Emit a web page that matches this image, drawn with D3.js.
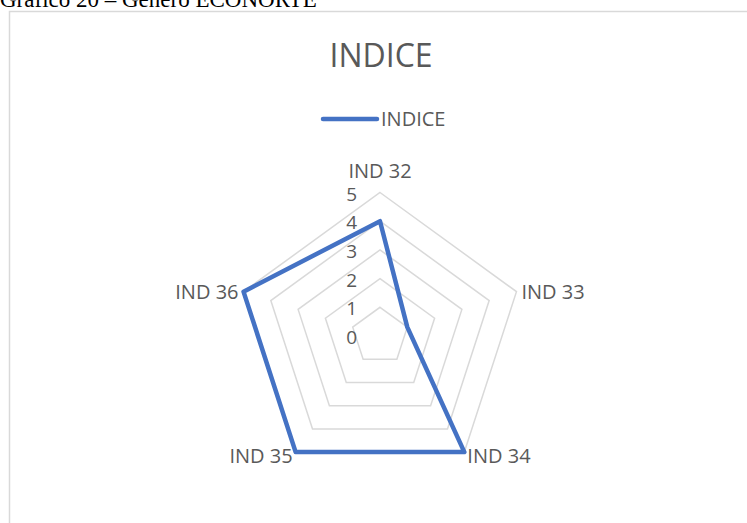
<!DOCTYPE html>
<html>
<head>
<meta charset="utf-8">
<script src="https://cdn.jsdelivr.net/npm/d3@7"></script>
<style>
  html, body { margin: 0; padding: 0; background: #fff; }
  svg { display: block; }
</style>
</head>
<body>
<svg id="chart" width="747" height="523"></svg>
<script>
// Radar chart data
const categories = ["IND 32", "IND 33", "IND 34", "IND 35", "IND 36"];
const seriesName = "INDICE";
const values = [4, 1, 5, 5, 5];
const tickValues = [0, 1, 2, 3, 4, 5];

const svg = d3.select("#chart");
const textColor = "#595959";
const gridColor = "#d9d9d9";
const lineColor = "#4472c4";
const font = "'Open Sans', sans-serif";

// Caption above the chart frame (partially cut off at the top)
svg.append("text")
  .attr("x", 0).attr("y", 7)
  .attr("font-family", "'Liberation Serif', 'Times New Roman', serif")
  .attr("font-size", 23)
  .attr("fill", "#000")
  .text("Gráfico 20 – Género ECONORTE");

// Chart frame
svg.append("rect")
  .attr("x", 9.5).attr("y", 11.5)
  .attr("width", 800).attr("height", 600)
  .attr("fill", "#fff")
  .attr("stroke", gridColor).attr("stroke-width", 1.5);

// Title
svg.append("text")
  .attr("x", 381).attr("y", 67)
  .attr("text-anchor", "middle")
  .attr("font-family", font).attr("font-size", 32)
  .attr("fill", textColor)
  .text(seriesName);

// Legend
const legend = svg.append("g");
legend.append("line")
  .attr("x1", 323).attr("x2", 377)
  .attr("y1", 119).attr("y2", 119)
  .attr("stroke", lineColor).attr("stroke-width", 4.5)
  .attr("stroke-linecap", "round");
legend.append("text")
  .attr("x", 381).attr("y", 126)
  .attr("font-family", font).attr("font-size", 20)
  .attr("fill", textColor)
  .text(seriesName);

// Radar geometry
const cx = 380, cy = 336, radius = 143.5;
const r = d3.scaleLinear().domain([0, 5]).range([0, radius]);
const angle = d3.scaleLinear().domain([0, categories.length]).range([0, 2 * Math.PI]);

const point = (i, v) => {
  const a = angle(i) - Math.PI / 2;
  return [cx + r(v) * Math.cos(a), cy + r(v) * Math.sin(a)];
};

const radial = d3.lineRadial()
  .angle((d, i) => angle(i))
  .radius(d => r(d))
  .curve(d3.curveLinearClosed);

const plot = svg.append("g").attr("transform", `translate(${cx},${cy})`);

// Grid rings
tickValues.slice(1).forEach(t => {
  plot.append("path")
    .attr("d", radial(categories.map(() => t)))
    .attr("fill", "none")
    .attr("stroke", gridColor)
    .attr("stroke-width", 1.5);
});

// Series polygon
plot.append("path")
  .attr("d", radial(values))
  .attr("fill", "none")
  .attr("stroke", lineColor)
  .attr("stroke-width", 4.5)
  .attr("stroke-linejoin", "round");

// Value axis labels
tickValues.forEach(t => {
  svg.append("text")
    .attr("x", cx - 23)
    .attr("y", cy - r(t) + 8)
    .attr("text-anchor", "end")
    .attr("font-family", font).attr("font-size", 19)
    .attr("fill", textColor)
    .text(t);
});

// Category labels
const labelPos = [
  { anchor: "middle", dx: 0, dy: -15 },
  { anchor: "start", dx: 5, dy: 7 },
  { anchor: "start", dx: 3, dy: 11 },
  { anchor: "end", dx: -3, dy: 11 },
  { anchor: "end", dx: -5, dy: 7 }
];
categories.forEach((c, i) => {
  const [x, y] = point(i, 5);
  svg.append("text")
    .attr("x", x + labelPos[i].dx)
    .attr("y", y + labelPos[i].dy)
    .attr("text-anchor", labelPos[i].anchor)
    .attr("font-family", font).attr("font-size", 20)
    .attr("fill", textColor)
    .text(c);
});
</script>
</body>
</html>
